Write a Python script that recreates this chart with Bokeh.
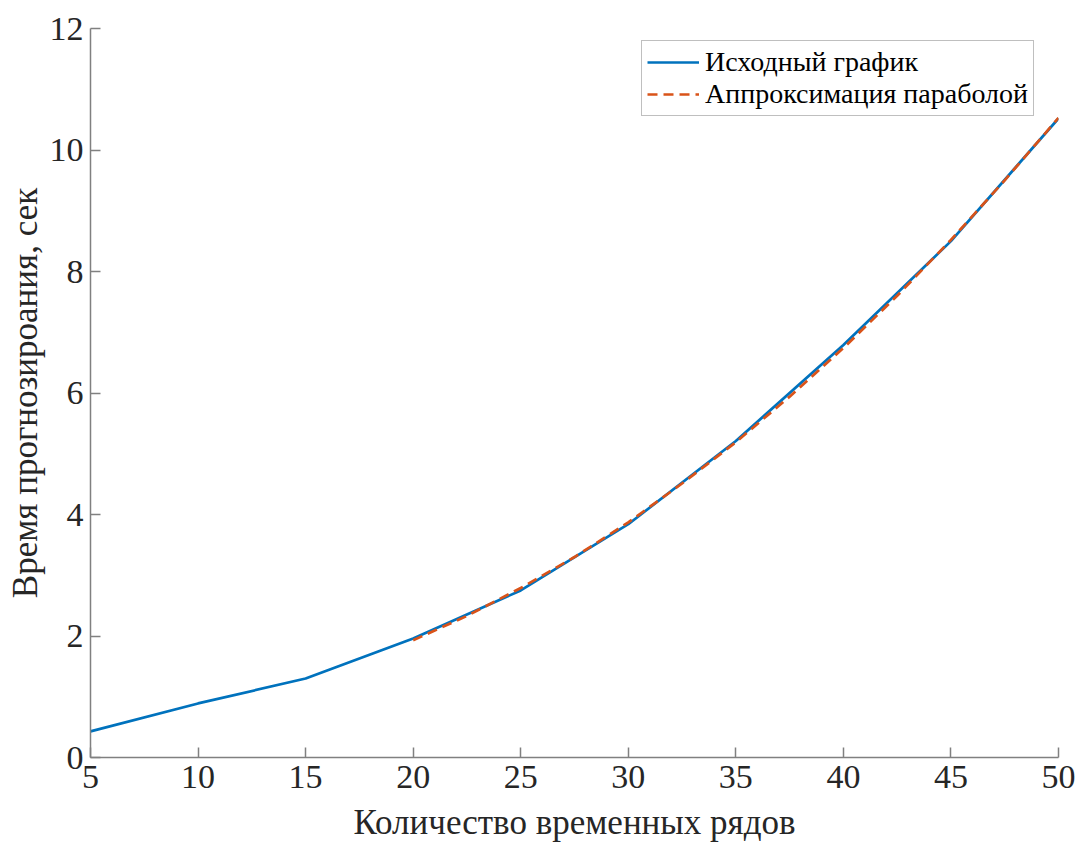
from bokeh.plotting import figure
from bokeh.models import Range1d, FixedTicker, Legend, LegendItem
from bokeh.embed import file_html
from bokeh.resources import INLINE

# Number of time series and the forecasting time measured for each
series_count = [5, 10, 15, 20, 25, 30, 35, 40, 45, 50]
forecast_time = [0.43, 0.89, 1.30, 1.96, 2.75, 3.84, 5.21, 6.79, 8.50, 10.52]

# Parabolic approximation over the 20..50 range
parab_x = [20, 22.5, 25, 27.5, 30, 32.5, 35, 37.5, 40, 42.5, 45, 47.5, 50]
parab_y = [1.93, 2.33, 2.79, 3.30, 3.87, 4.51, 5.19, 5.94, 6.74, 7.60, 8.52, 9.50, 10.53]

x_ticks = [5, 10, 15, 20, 25, 30, 35, 40, 45, 50]
y_ticks = [0, 2, 4, 6, 8, 10, 12]

FONT = "Liberation Serif"
AXIS_GRAY = "#808080"

p = figure(
    width=1082, height=847,
    frame_width=968, frame_height=729,
    min_border_left=90, min_border_right=24,
    min_border_top=28, min_border_bottom=90,
    x_range=Range1d(5, 50), y_range=Range1d(0, 12),
    output_backend="svg", toolbar_location=None,
)
p.outline_line_color = None
p.grid.visible = False
p.background_fill_color = "white"
p.border_fill_color = "white"

blue = p.line(series_count, forecast_time, line_color="#0072BD", line_width=2.7)
orange = p.line(parab_x, parab_y, line_color="#D95319", line_width=2.7,
                line_dash="10 6")

for ax in (p.xaxis[0], p.yaxis[0]):
    ax.axis_line_color = AXIS_GRAY
    ax.axis_line_width = 1.5
    ax.major_tick_line_color = AXIS_GRAY
    ax.major_tick_line_width = 1.5
    ax.major_tick_in = 10
    ax.major_tick_out = 0
    ax.minor_tick_line_color = None
    ax.major_label_text_font = FONT
    ax.major_label_text_font_size = "34px"
    ax.major_label_text_color = "#262626"
    ax.axis_label_text_font = FONT
    ax.axis_label_text_font_size = "35px"
    ax.axis_label_text_font_style = "normal"
    ax.axis_label_text_color = "#262626"

p.xaxis.ticker = FixedTicker(ticks=x_ticks)
p.yaxis.ticker = FixedTicker(ticks=y_ticks)
p.xaxis.major_label_standoff = 8
p.yaxis.major_label_standoff = 7
p.xaxis.axis_label = "Количество временных рядов"
p.yaxis.axis_label = "Время прогнозироания, сек"
p.xaxis.axis_label_standoff = 12
p.yaxis.axis_label_standoff = 2

legend = Legend(
    items=[
        LegendItem(label="Исходный график", renderers=[blue]),
        LegendItem(label="Аппроксимация параболой", renderers=[orange]),
    ],
    location=(551, 641),
    label_text_font=FONT,
    label_text_font_size="28px",
    label_text_color="#000000",
    label_height=30,
    label_standoff=6,
    glyph_height=30,
    glyph_width=52,
    spacing=0,
    padding=5,
    margin=0,
    border_line_color="#7f7f7f",
    border_line_width=1.5,
    background_fill_color="white",
    background_fill_alpha=1.0,
)
p.add_layout(legend, "center")

open("out.html", "w").write(file_html(p, INLINE))
